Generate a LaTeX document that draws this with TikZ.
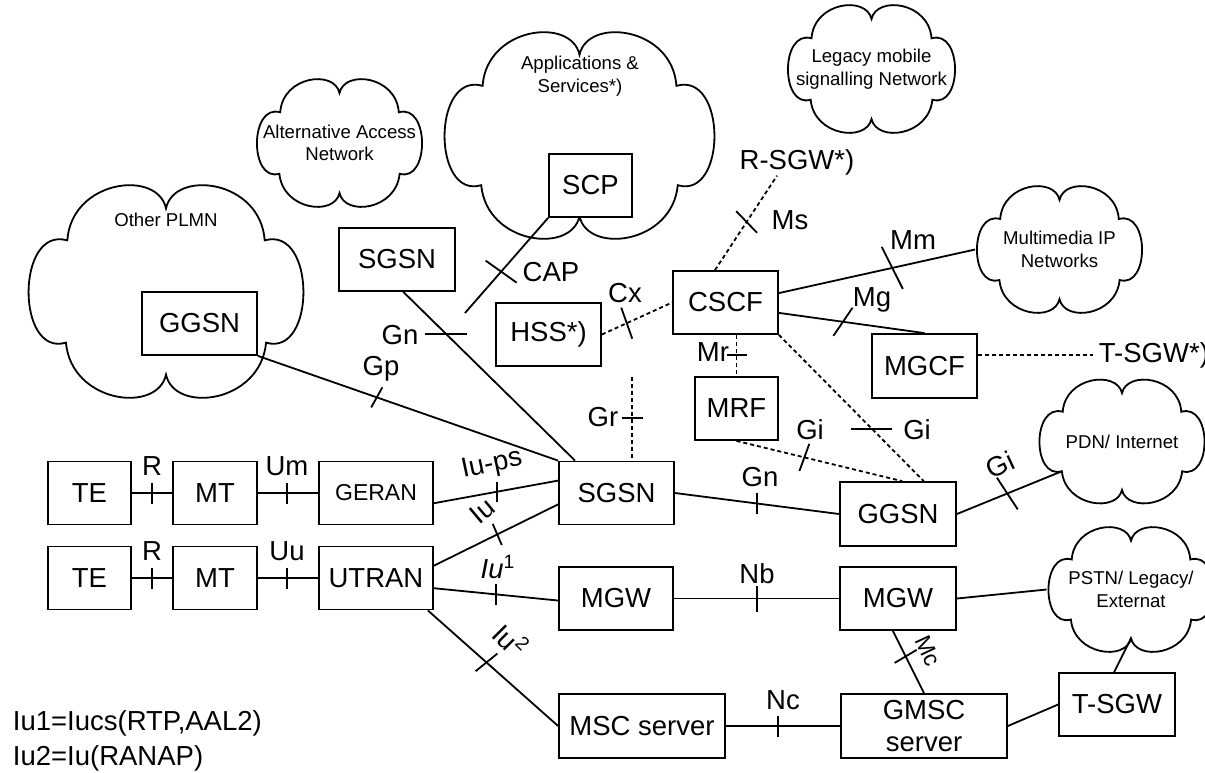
\documentclass[tikz,border=0pt]{standalone}
\usepackage{fontspec}
\setmainfont{Liberation Sans}
\usetikzlibrary{calc}
% cloud outline round a node: name, half width, half height
\newcommand\netcloud[3]{%
  \draw[shift={(#1.center)},x=#2,y=-#3]
    (-0.71,-0.48) coordinate (#1-nw) .. controls (-0.68,-1.05) and (-0.06,-1.15) .. (0,-0.78) coordinate (#1-n)
    .. controls (0.06,-1.15) and (0.68,-1.05) .. (0.71,-0.48) coordinate (#1-ne)
    .. controls (1.08,-0.62) and (1.08,0.62) .. (0.72,0.48) coordinate (#1-se)
    .. controls (0.68,1.05) and (0.06,1.15) .. (0,0.78) coordinate (#1-s)
    .. controls (-0.06,1.15) and (-0.68,1.05) .. (-0.72,0.48) coordinate (#1-sw)
    .. controls (-1.08,0.62) and (-1.08,-0.62) .. cycle;}

\begin{document}
\begin{tikzpicture}[x=0.5pt,y=-0.5pt,line width=0.9pt,
    font=\fontsize{13.75}{16}\selectfont,
    box/.style={draw,fill=white,inner sep=0pt,minimum height=31.5pt,align=center},
    net/.style={inner sep=0pt},
    nettext/.style={inner sep=0pt,align=center,font=\fontsize{9.3}{11.2}\selectfont},
    ifc/.style={inner sep=0pt},
    sig/.style={dash pattern=on 2pt off 1.5pt}]
  \useasboundingbox (0,0) rectangle (1205,772);

  % networks
  \node[net,minimum width=139pt,minimum height=106.5pt] (plmn) at (166,291.5) {};
  \node[net,minimum width=83.5pt,minimum height=64pt] (altnet) at (339.5,143) {};
  \node[net,minimum width=136.5pt,minimum height=103.5pt] (apps) at (579.5,135.5) {};
  \node[net,minimum width=84.5pt,minimum height=64pt] (legacy) at (871.5,69) {};
  \node[net,minimum width=83.5pt,minimum height=63.5pt] (mmip) at (1059.5,249.5) {};
  \node[net,minimum width=83.5pt,minimum height=62pt] (pdn) at (1122,441.5) {};
  \node[net,minimum width=83.5pt,minimum height=62.5pt] (pstn) at (1131,589.5) {};
  \netcloud{plmn}{69.5pt}{53.25pt}
  \netcloud{altnet}{41.75pt}{32pt}
  \netcloud{apps}{68.25pt}{51.75pt}
  \netcloud{legacy}{42.25pt}{32pt}
  \netcloud{mmip}{41.75pt}{31.75pt}
  \netcloud{pdn}{41.75pt}{31pt}
  \netcloud{pstn}{41.75pt}{31.25pt}
  \node[nettext] (plmntxt) at (166,220) {Other PLMN};
  \node[nettext] (altnettxt) at (altnet) {Alternative Access\\Network};
  \node[nettext] (appstxt) at (580,76) {Applications \&\\Services*)};
  \node[nettext] (legacytxt) at (legacy) {Legacy mobile\\signalling Network};
  \node[nettext] (mmiptxt) at (mmip) {Multimedia IP\\Networks};
  \node[nettext] (pdntxt) at (pdn) {PDN/ Internet};
  \node[nettext] (pstntxt) at (pstn) {PSTN/ Legacy/\\Externat};

  % elements
  \node[box,minimum width=41.5pt] (te1) at (89.5,493) {TE};
  \node[box,minimum width=42pt] (mt1) at (215,493) {MT};
  \node[box,minimum width=57pt,font=\fontsize{11.5}{14}\selectfont] (geran) at (376,493) {GERAN};
  \node[box,minimum width=41.5pt] (te2) at (89.5,578) {TE};
  \node[box,minimum width=42pt] (mt2) at (215,578) {MT};
  \node[box,minimum width=57pt] (utran) at (376,578) {UTRAN};
  \node[box,minimum width=57.5pt] (sgsn) at (616.5,493) {SGSN};
  \node[box,minimum width=58pt] (sgsnx) at (397,259.5) {SGSN};
  \node[box,minimum width=57.5pt] (ggsnx) at (199.5,323.5) {GGSN};
  \node[box,minimum width=41.5pt] (scp) at (590.5,185.5) {SCP};
  \node[box,minimum width=52.5pt] (hss) at (548.5,334.5) {HSS*)};
  \node[box,minimum width=52.5pt] (cscf) at (725.5,302.5) {CSCF};
  \node[box,minimum width=41.5pt] (mrf) at (736.5,408.5) {MRF};
  \node[box,minimum width=52.5pt,minimum height=32pt] (mgcf) at (924.5,366) {MGCF};
  \node[box,minimum width=58pt,minimum height=32pt] (ggsn) at (898,514) {GGSN};
  \node[box,minimum width=57pt] (mgwa) at (616,598.5) {MGW};
  \node[box,minimum width=58pt] (mgwb) at (898,598.5) {MGW};
  \node[box,minimum width=83pt,minimum height=32pt] (msc) at (642,726) {MSC server};
  \node[box,minimum width=83pt,minimum height=32pt] (gmsc) at (924,726) {GMSC\\server};
  \node[box,minimum width=58pt] (tsgw) at (1117,704.5) {T-SGW};
  \node[ifc] (rsgw) at (797,162) {R-SGW*)};
  \node[ifc,inner sep=2.5pt,anchor=west] (tsgwx) at (1093,355) {T-SGW*)};
  \coordinate (capend) at (465,313);
  \coordinate (grend) at (632,377);

  % reference points
  \draw (te1.east) -- (mt1.west);
  \draw ($(te1.east)!0.5!(mt1.west)$) +(90:10.5) -- +(-90:10.5);
  \node[ifc] (r1) at (152,466) {R};
  \draw (mt1.east) -- (geran.west);
  \draw ($(mt1.east)!0.48!(geran.west)$) +(90:10.5) -- +(-90:10.5);
  \node[ifc] (um) at (287,466) {Um};
  \draw (te2.east) -- (mt2.west);
  \draw ($(te2.east)!0.5!(mt2.west)$) +(90:10.5) -- +(-90:10.5);
  \node[ifc] (r2) at (152,551) {R};
  \draw (mt2.east) -- (utran.west);
  \draw ($(mt2.east)!0.48!(utran.west)$) +(90:10.5) -- +(-90:10.5);
  \node[ifc] (uu) at (287,551) {Uu};

  % radio access to core
  \draw (geran.-10) -- (sgsn.168);
  \draw ($(geran.-10)!0.51!(sgsn.168)$) +(90:10) -- +(-90:10);
  \node[ifc,rotate=12] (iups) at (492,465) {Iu-ps};
  \draw (utran.12) -- (sgsn.191);
  \draw ($(utran.12)!0.51!(sgsn.191)$) +(66.8:11.5) -- +(246.8:11.5);
  \node[ifc,rotate=40] (iu) at (482,511) {Iu};
  \draw (utran.-10) -- (mgwa.182);
  \draw ($(utran.-10)!0.5!(mgwa.182)$) +(90:10.5) -- +(-90:10.5);
  \node[ifc] (iua) at (498,567) {\textit{Iu}\textsuperscript{1}};
  \draw (utran.-32) -- (msc.west);
  \draw ($(utran.-32)!0.45!(msc.west)$) +(-39:14) -- +(141:14);
  \node[ifc,rotate=-45] (iub) at (511,640) {Iu\textsuperscript{2}};

  % packet core
  \draw (sgsnx.-79) -- (sgsn.142.6);
  \draw ($(sgsnx.-79)!0.25!(sgsn.142.6)$) +(0:21) -- +(180:21);
  \node[ifc] (gna) at (400,335) {Gn};
  \draw (ggsnx.south east) -- (sgsn.north west);
  \draw ($(ggsnx.south east)!0.396!(sgsn.north west)$) +(-61:11.5) -- +(119:11.5);
  \node[ifc] (gp) at (381,369) {Gp};
  \draw (scp.south west) -- (capend);
  \draw ($(scp.south west)!0.565!(capend)$) +(35.4:19) -- +(215.4:19);
  \node[ifc] (cap) at (551,272) {CAP};
  \draw[sig] (grend) -- (grend |- sgsn.north);
  \draw ($(grend)!0.49!(grend |- sgsn.north)$) +(0:10.5) -- +(180:10.5);
  \node[ifc] (gr) at (603,417) {Gr};
  \draw (sgsn.east) -- (ggsn.west);
  \draw ($(sgsn.east)!0.5!(ggsn.west)$) +(90:10.5) -- +(-90:10.5);
  \node[ifc] (gnb) at (760,477) {Gn};
  \draw (ggsn.east) -- (pdn-sw);
  \draw ($(ggsn.east)!0.48!(pdn-sw)$) +(56.7:19) -- +(236.7:19);
  \node[ifc,rotate=25] (gia) at (1000,465) {Gi};

  % IM subsystem
  \draw[sig] (hss.east) -- (cscf.west);
  \draw ($(hss.east)!0.354!(cscf.west)$) +(70.5:16.5) -- +(250.5:16.5);
  \node[ifc] (cx) at (625,293) {Cx};
  \draw[sig] (cscf.108) -- ($(rsgw.south)+(-20,0)$);
  \draw ($(cscf.108)!0.51!($(rsgw.south)+(-20,0)$)$) +(46:15) -- +(226:15);
  \node[ifc] (ms) at (790,220) {Ms};
  \draw (cscf.10) -- (mmip.west);
  \draw ($(cscf.10)!0.578!(mmip.west)$) +(63.4:23.5) -- +(243.4:23.5);
  \node[ifc] (mm) at (913,240) {Mm};
  \draw (cscf.-11) -- (mgcf.north);
  \draw ($(cscf.-11)!0.44!(mgcf.north)$) +(-55.8:17) -- +(124.2:17);
  \node[ifc] (mg) at (872,300) {Mg};
  \draw[sig] (cscf.south east) -- (ggsn.52);
  \draw ($(cscf.south east)!0.642!(ggsn.52)$) +(0:20.5) -- +(180:20.5);
  \node[ifc] (gib) at (917,430) {Gi};
  \draw[sig] (mrf.north |- cscf.south) -- (mrf.north);
  \draw ($(mrf.north |- cscf.south)!0.49!(mrf.north)$) +(0:10) -- +(180:10);
  \node[ifc] (mr) at (713,352) {Mr};
  \draw[sig] (mrf.south) -- (ggsn.83);
  \draw ($(mrf.south)!0.41!(ggsn.83)$) +(110:14.4) -- +(290:14.4);
  \node[ifc] (gic) at (810,430) {Gi};
  \draw[sig] (tsgwx.west -| mgcf.east) -- (tsgwx.west);

  % circuit core
  \draw (mgwa.east) -- (mgwb.west);
  \draw ($(mgwa.east)!0.503!(mgwb.west)$) +(90:13) -- +(-90:13);
  \node[ifc] (nb) at (757,574) {Nb};
  \draw (mgwb.east) -- (pstn.west);
  \draw (mgwb.-99) -- (gmsc.north);
  \draw ($(mgwb.-99)!0.41!(gmsc.north)$) +(-30.6:12.8) -- +(149.4:12.8);
  \node[ifc,rotate=-65,font=\fontsize{11.5}{14}\selectfont] (mc) at (928,651) {Mc};
  \draw (msc.east) -- (gmsc.west);
  \draw ($(msc.east)!0.457!(gmsc.west)$) +(90:10.5) -- +(-90:10.5);
  \node[ifc] (nc) at (783,700) {Nc};
  \draw (gmsc.east) -- (tsgw.west);
  \draw (tsgw.95) -- (pstn-s);

  \node[ifc,anchor=base west] (leg1) at (12,730) {Iu1=Iucs(RTP,AAL2)};
  \node[ifc,anchor=base west] (leg2) at (12,765) {Iu2=Iu(RANAP)};
\end{tikzpicture}
\end{document}
